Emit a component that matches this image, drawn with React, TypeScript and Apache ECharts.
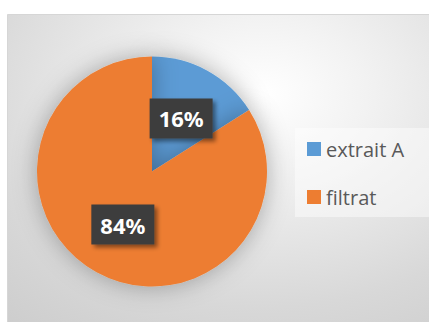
import React, { useEffect, useRef } from "react";
import * as echarts from "echarts";

const categories = ["extrait A", "filtrat"];
const values = [16, 84];
const colors = ["#5b9bd5", "#ed7d31"];

export default function App() {
  const ref = useRef<HTMLDivElement>(null);
  useEffect(() => {
    if (!ref.current) return;
    const chart = echarts.init(ref.current, null, { renderer: "svg" });
    chart.setOption({
      animation: false,
      backgroundColor: "#ffffff",
      graphic: [
        {
          type: "rect",
          z: -10,
          silent: true,
          shape: { x: 7.5, y: 14.5, width: 440, height: 320 },
          style: {
            fill: {
              type: "radial",
              x: 0.58,
              y: 0.25,
              r: 0.95,
              colorStops: [
                { offset: 0, color: "#ffffff" },
                { offset: 0.25, color: "#f2f2f2" },
                { offset: 0.7, color: "#d8d8d8" },
                { offset: 1, color: "#cccccc" },
              ],
            },
            stroke: "#d6d6d6",
            lineWidth: 1,
          },
        },
        {
          type: "rect",
          z: -5,
          silent: true,
          shape: { x: 295, y: 128, width: 140, height: 89 },
          style: { fill: "rgba(255,255,255,0.45)" },
        },
      ],
      legend: {
        orient: "vertical",
        left: 295,
        top: 128,
        padding: [11, 10, 9, 12],
        itemWidth: 14,
        itemHeight: 14,
        itemGap: 28,
        itemTextGap: 6,
        itemStyle: { borderWidth: 0 },
        icon: "rect",
        textStyle: {
          fontFamily: "Open Sans",
          fontSize: 20,
          color: "#595959",
        },
        data: categories,
      },
      series: [
        {
          type: "pie",
          center: [152, 171.5],
          radius: 115,
          startAngle: 90,
          clockwise: true,
          itemStyle: {
            shadowBlur: 24,
            shadowColor: "rgba(0,0,0,0.3)",
          },
          label: {
            show: true,
            position: "inside",
            formatter: "{d}%",
            fontFamily: "Noto Sans",
            fontWeight: "bold",
            fontSize: 22,
            lineHeight: 22,
            color: "#ffffff",
            backgroundColor: "#3d3d3d",
            padding: [9, 9, 9, 9],
            shadowBlur: 4,
            shadowOffsetX: 3,
            shadowOffsetY: 3,
            shadowColor: "rgba(0,0,0,0.45)",
          },
          labelLine: { show: false },
          data: categories.map((name, i) => ({
            name,
            value: values[i],
            itemStyle: { color: colors[i] },
          })),
        },
      ],
    });
    return () => chart.dispose();
  }, []);
  return (
    <div
      ref={ref}
      style={{ position: "absolute", left: 0, top: 0, width: 429, height: 322 }}
    />
  );
}
